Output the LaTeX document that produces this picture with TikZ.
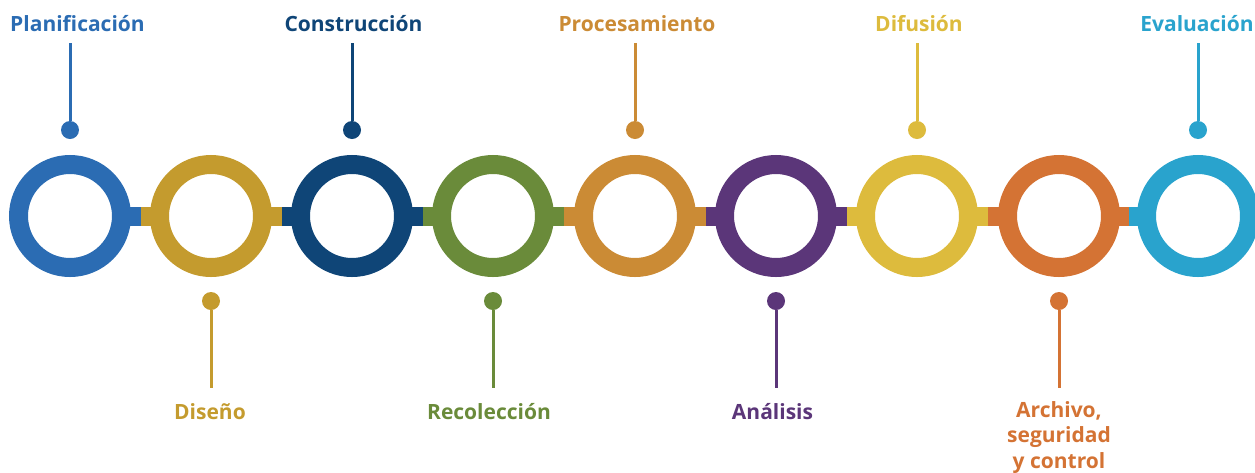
\documentclass[tikz,border=0pt]{standalone}
\usepackage{fontspec}
\setmainfont{Open Sans}
\usetikzlibrary{positioning}
\definecolor{cPlan}{HTML}{2B6CB3}
\definecolor{cDis}{HTML}{C49B2E}
\definecolor{cCons}{HTML}{0F4577}
\definecolor{cRec}{HTML}{6A8B3A}
\definecolor{cProc}{HTML}{CB8B35}
\definecolor{cAna}{HTML}{5B3679}
\definecolor{cDif}{HTML}{DDBB3D}
\definecolor{cArch}{HTML}{D47334}
\definecolor{cEval}{HTML}{29A3CD}
\tikzset{
  ring/.style={circle, draw=#1, line width=19pt, minimum size=103pt, inner sep=0pt},
  bar/.style={draw=#1, line width=19pt, shorten <=-4pt},
  dot/.style={circle, fill=#1, minimum size=18pt, inner sep=0pt},
  pin/.style={draw=#1, line width=3pt},
  lbl/.style={text=#1, font=\bfseries\fontsize{21}{25.5}\selectfont, align=center, inner sep=0pt}
}

\begin{document}
\begin{tikzpicture}[x=1pt, y=-1pt]
		%%%%% START %%%%%
		\useasboundingbox (0,0) rectangle (1255,472);
		
		\coordinate (m12) at (140.5,216);
		\coordinate (m23) at (281.5,216);
		\coordinate (m34) at (422.5,216);
		\coordinate (m45) at (564,216);
		\coordinate (m56) at (705.5,216);
		\coordinate (m67) at (846.5,216);
		\coordinate (m78) at (988,216);
		\coordinate (m89) at (1128.5,216);
		
		\node[ring=cPlan] (plan) at (70,216) {};
		\node[ring=cDis] (dis) at (211,216) {};
		\node[ring=cCons] (cons) at (352,216) {};
		\node[ring=cRec] (rec) at (493,216) {};
		\node[ring=cProc] (proc) at (635,216) {};
		\node[ring=cAna] (ana) at (776,216) {};
		\node[ring=cDif] (dif) at (917,216) {};
		\node[ring=cArch] (arch) at (1059,216) {};
		\node[ring=cEval] (eval) at (1198,216) {};
		
		\draw[bar=cPlan] (plan) -- (m12);
		\draw[bar=cDis] (dis) -- (m12);
		\draw[bar=cDis] (dis) -- (m23);
		\draw[bar=cCons] (cons) -- (m23);
		\draw[bar=cCons] (cons) -- (m34);
		\draw[bar=cRec] (rec) -- (m34);
		\draw[bar=cRec] (rec) -- (m45);
		\draw[bar=cProc] (proc) -- (m45);
		\draw[bar=cProc] (proc) -- (m56);
		\draw[bar=cAna] (ana) -- (m56);
		\draw[bar=cAna] (ana) -- (m67);
		\draw[bar=cDif] (dif) -- (m67);
		\draw[bar=cDif] (dif) -- (m78);
		\draw[bar=cArch] (arch) -- (m78);
		\draw[bar=cArch] (arch) -- (m89);
		\draw[bar=cEval] (eval) -- (m89);
		
		% top pins
		\node[dot=cPlan] (planDot) at (70,130) {};
		\coordinate (planEnd) at (70,43);
		\draw[pin=cPlan] (planDot) -- (planEnd);
		\node[lbl=cPlan, anchor=base] (planLbl) at (77.5,31) {Planificación};
		
		\node[dot=cCons] (consDot) at (352,130) {};
		\coordinate (consEnd) at (352,43);
		\draw[pin=cCons] (consDot) -- (consEnd);
		\node[lbl=cCons, anchor=base] (consLbl) at (353.5,31) {Construcción};
		
		\node[dot=cProc] (procDot) at (635,130) {};
		\coordinate (procEnd) at (635,43);
		\draw[pin=cProc] (procDot) -- (procEnd);
		\node[lbl=cProc, anchor=base] (procLbl) at (637,31) {Procesamiento};
		
		\node[dot=cDif] (difDot) at (917,130) {};
		\coordinate (difEnd) at (917,43);
		\draw[pin=cDif] (difDot) -- (difEnd);
		\node[lbl=cDif, anchor=base] (difLbl) at (919,31) {Difusión};
		
		\node[dot=cEval] (evalDot) at (1198,130) {};
		\coordinate (evalEnd) at (1198,43);
		\draw[pin=cEval] (evalDot) -- (evalEnd);
		\node[lbl=cEval, anchor=base] (evalLbl) at (1197,31) {Evaluación};
		
		% bottom pins
		\node[dot=cDis] (disDot) at (211,301) {};
		\coordinate (disEnd) at (211,388);
		\draw[pin=cDis] (disDot) -- (disEnd);
		\node[lbl=cDis, anchor=base] (disLbl) at (210,419) {Diseño};
		
		\node[dot=cRec] (recDot) at (493,301) {};
		\coordinate (recEnd) at (493,388);
		\draw[pin=cRec] (recDot) -- (recEnd);
		\node[lbl=cRec, anchor=base] (recLbl) at (489,419) {Recolección};
		
		\node[dot=cAna] (anaDot) at (776,301) {};
		\coordinate (anaEnd) at (776,388);
		\draw[pin=cAna] (anaDot) -- (anaEnd);
		\node[lbl=cAna, anchor=base] (anaLbl) at (772.5,419) {Análisis};
		
		\node[dot=cArch] (archDot) at (1059,301) {};
		\coordinate (archEnd) at (1059,388);
		\draw[pin=cArch] (archDot) -- (archEnd);
		\node[lbl=cArch, anchor=north] (archLbl) at (1059,401) {Archivo,\\seguridad\\y control};
		%%%%% END %%%%%
	\end{tikzpicture}
\end{document}
